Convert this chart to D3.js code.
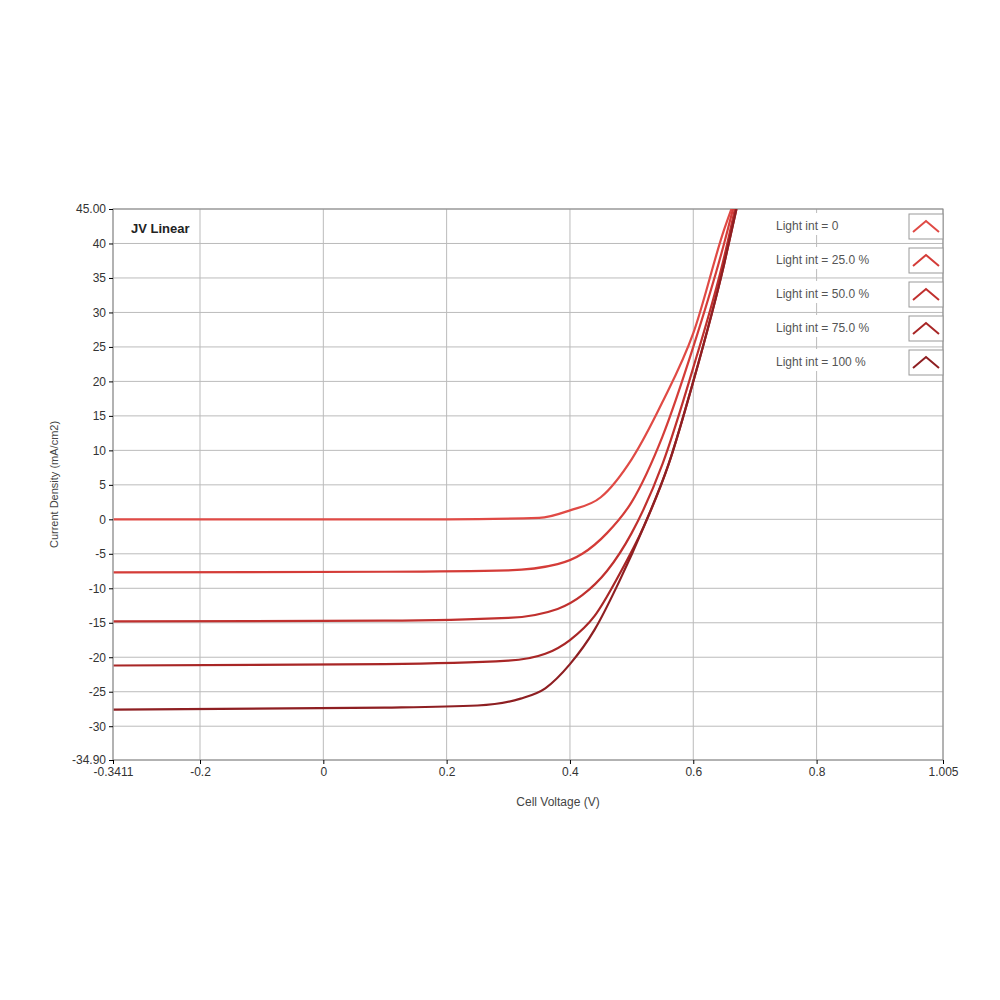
<!DOCTYPE html><html><head><meta charset="utf-8"><script src="https://cdn.jsdelivr.net/npm/d3@7"></script>
<style>body{margin:0;background:#fff}text{font-family:"Liberation Sans",Arial,sans-serif}</style></head><body><svg id="c" width="1000" height="1000"></svg><script>
const seriesNames=["Light int = 0","Light int = 25.0 %","Light int = 50.0 %","Light int = 75.0 %","Light int = 100 %"];
const colors=["#e04a45","#d43c38","#c0302e","#a82626","#8e1f22"];
const xTicks=[-0.3411,-0.2,0,0.2,0.4,0.6,0.8,1.005];
const xTickLabels=["-0.3411","-0.2","0","0.2","0.4","0.6","0.8","1.005"];
const yTicks=[-34.9,-30,-25,-20,-15,-10,-5,0,5,10,15,20,25,30,35,40,45];
const yTickLabels=["-34.90","-30","-25","-20","-15","-10","-5","0","5","10","15","20","25","30","35","40","45.00"];
const s0=[[-0.34,0],[0.2,0],[0.35,0.2],[0.4,1.3],[0.45,3.2],[0.5,8.7],[0.55,17],[0.6,27],[0.65,42],[0.67,47]];
const s1=[[-0.34,-7.7],[0.1,-7.6],[0.3,-7.4],[0.38,-6.5],[0.42,-5],[0.46,-2],[0.5,2.5],[0.55,12],[0.6,25],[0.65,40],[0.67,47]];
const s2=[[-0.34,-14.8],[0.1,-14.7],[0.3,-14.3],[0.38,-13],[0.42,-11],[0.46,-7.5],[0.5,-2],[0.55,8],[0.6,22],[0.65,38],[0.67,46]];
const s3=[[-0.34,-21.2],[0.1,-21],[0.3,-20.5],[0.36,-19.5],[0.4,-17.5],[0.44,-14],[0.48,-8],[0.52,-1],[0.56,8],[0.6,20],[0.65,37],[0.67,45]];
const s4=[[-0.34,-27.6],[0.1,-27.3],[0.25,-27],[0.32,-26],[0.36,-24.5],[0.4,-21],[0.44,-16],[0.48,-9],[0.52,-1],[0.56,8],[0.6,20],[0.65,37],[0.67,45]];
const data=[s0,s1,s2,s3,s4];
const L=113,R=943,T=209,B=760;
const svg=d3.select("#c");
const x=d3.scaleLinear().domain([-0.3411,1.005]).range([L,R]);
const y=d3.scaleLinear().domain([-34.9,45]).range([B,T]);
const g=svg.append("g");
g.selectAll(".vx").data(xTicks).enter().append("line").attr("x1",d=>x(d)).attr("x2",d=>x(d)).attr("y1",T).attr("y2",B).attr("stroke","#bbb");
g.selectAll(".hy").data(yTicks).enter().append("line").attr("y1",d=>y(d)).attr("y2",d=>y(d)).attr("x1",L).attr("x2",R).attr("stroke","#bbb");
svg.append("rect").attr("x",L).attr("y",T).attr("width",R-L).attr("height",B-T).attr("fill","none").attr("stroke","#888");
svg.append("g").attr("transform",`translate(0,${B})`).call(d3.axisBottom(x).tickValues(xTicks).tickFormat((d,i)=>xTickLabels[i]).tickSize(4)).call(a=>a.select(".domain").remove()).selectAll("text").attr("font-size",12).attr("fill","#333");
svg.append("g").attr("transform",`translate(${L},0)`).call(d3.axisLeft(y).tickValues(yTicks).tickFormat((d,i)=>yTickLabels[i]).tickSize(4)).call(a=>a.select(".domain").remove()).selectAll("text").attr("font-size",12).attr("fill","#333");
svg.append("defs").append("clipPath").attr("id","cp").append("rect").attr("x",L).attr("y",T).attr("width",R-L).attr("height",B-T);
const line=d3.line().x(d=>x(d[0])).y(d=>y(d[1])).curve(d3.curveMonotoneX);
svg.append("g").attr("clip-path","url(#cp)").selectAll("path").data(data).enter().append("path").attr("d",line).attr("fill","none").attr("stroke",(d,i)=>colors[i]).attr("stroke-width",2.2);
svg.append("text").attr("x",L+18).attr("y",T+24).attr("font-size",13).attr("font-weight","bold").attr("fill","#222").text("JV Linear");
svg.append("text").attr("transform",`translate(58,${(T+B)/2}) rotate(-90)`).attr("text-anchor","middle").attr("font-size",11).attr("fill","#444").text("Current Density (mA/cm2)");
svg.append("text").attr("x",(L+R)/2+30).attr("y",806).attr("text-anchor","middle").attr("font-size",12).attr("fill","#444").text("Cell Voltage (V)");
const lg=svg.append("g").selectAll("g").data(seriesNames).enter().append("g").attr("transform",(d,i)=>`translate(0,${225+i*34})`);
lg.append("rect").attr("x",775).attr("y",-12).attr("width",120).attr("height",22).attr("fill","#fff");
lg.append("text").attr("x",776).attr("y",5).attr("font-size",12).attr("fill","#555").text(d=>d);
lg.append("rect").attr("x",909).attr("y",-11).attr("width",34).attr("height",25).attr("fill","#fff").attr("stroke","#999");
lg.append("path").attr("d","M913,7 L926,-4 L939,7").attr("fill","none").attr("stroke",(d,i)=>colors[i]).attr("stroke-width",2);
</script></body></html>
